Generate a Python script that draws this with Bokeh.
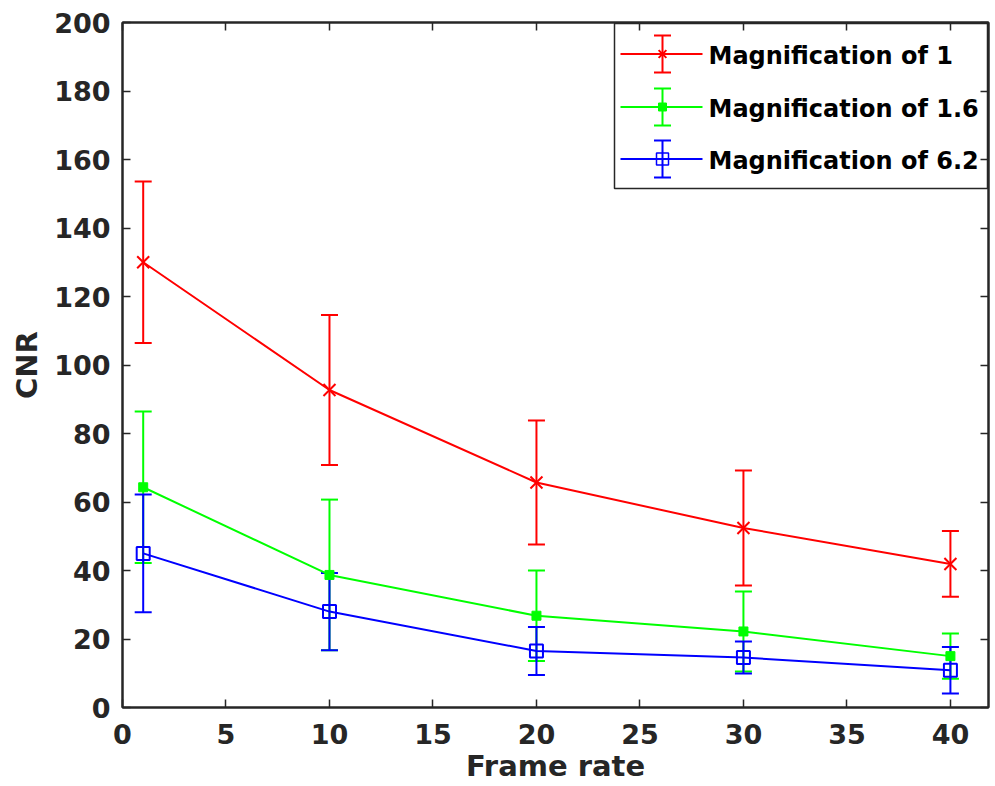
from bokeh.plotting import figure
from bokeh.models import (ColumnDataSource, Whisker, TeeHead, LinearAxis, Range1d,
                          FixedTicker, CustomJSTickFormatter)
from bokeh.core.properties import value
from bokeh.embed import file_html
from bokeh.resources import INLINE

# ---------------- data ----------------
frame_rate = [1, 10, 20, 30, 40]
cnr_mag1 = [130.0, 92.7, 65.7, 52.4, 41.9]
err_mag1 = [23.6, 21.9, 18.1, 16.8, 9.6]
cnr_mag16 = [64.3, 38.7, 26.8, 22.2, 15.0]
err_mag16 = [22.1, 22.0, 13.2, 11.7, 6.6]
cnr_mag62 = [45.0, 28.0, 16.5, 14.6, 10.9]
err_mag62 = [17.2, 11.3, 7.0, 4.7, 6.8]

series_labels = ["Magnification of 1", "Magnification of 1.6", "Magnification of 6.2"]
series_colors = ["#ff0000", "#00ff00", "#0000ff"]
x_ticks = [0, 5, 10, 15, 20, 25, 30, 35, 40]
y_ticks = [0, 20, 40, 60, 80, 100, 120, 140, 160, 180, 200]
x_label = "Frame rate"
y_label = "CNR"

# ---------------- layout ----------------
W, H = 995, 786
BL, BR, BT, BB = 122, 7, 22, 79
FW, FH = W - BL - BR, H - BT - BB
FONT = "DejaVu Sans"
INK = "#262626"

p = figure(width=W, height=H, x_range=Range1d(0, 41.84), y_range=Range1d(0, 200),
           output_backend="svg", toolbar_location=None,
           min_border_left=BL, min_border_right=BR, min_border_top=BT, min_border_bottom=BB)
p.xgrid.visible = False
p.ygrid.visible = False
p.outline_line_color = INK
p.outline_line_width = 2
p.background_fill_color = "white"
p.border_fill_color = "white"

# pixel coordinate system for the legend (frame-relative, y from top)
p.extra_x_ranges = {"px": Range1d(0, FW)}
p.extra_y_ranges = {"px": Range1d(FH, 0)}


def style_axis(ax, show_labels=True):
    ax.axis_line_color = INK
    ax.axis_line_width = 2
    ax.major_tick_line_color = INK
    ax.major_tick_line_width = 1.5
    ax.major_tick_in = 8
    ax.major_tick_out = 0
    ax.minor_tick_line_color = None
    ax.major_label_text_color = INK
    ax.major_label_text_font = FONT
    ax.major_label_text_font_style = "bold"
    ax.major_label_text_font_size = "27px"
    ax.axis_label_text_color = INK
    ax.axis_label_text_font = FONT
    ax.axis_label_text_font_style = "bold"
    ax.axis_label_text_font_size = "29px"
    if not show_labels:
        ax.formatter = CustomJSTickFormatter(code="return ''")
        ax.major_label_standoff = 0
        ax.major_label_text_font_size = "1px"


p.xaxis.ticker = FixedTicker(ticks=x_ticks)
p.yaxis.ticker = FixedTicker(ticks=y_ticks)
style_axis(p.xaxis[0])
style_axis(p.yaxis[0])
p.xaxis.axis_label = x_label
p.yaxis.axis_label = y_label
p.xaxis.major_label_standoff = 16
p.xaxis.axis_label_standoff = 2
p.yaxis.major_label_standoff = 12
p.yaxis.axis_label_standoff = 7

top_ax = LinearAxis(ticker=FixedTicker(ticks=x_ticks))
right_ax = LinearAxis(ticker=FixedTicker(ticks=y_ticks))
style_axis(top_ax, False)
style_axis(right_ax, False)
p.add_layout(top_ax, "above")
p.add_layout(right_ax, "right")

# ---------------- series ----------------
series = [
    (cnr_mag1, err_mag1, dict(marker="x", size=17, line_width=2, fill_color=None)),
    (cnr_mag16, err_mag16, dict(marker="square", size=9, line_width=1)),
    (cnr_mag62, err_mag62, dict(marker="square", size=13, line_width=2, fill_color=None)),
]

for (vals, errs, mk), color, label in zip(series, series_colors, series_labels):
    src = ColumnDataSource(dict(
        x=frame_rate, y=vals,
        upper=[v + e for v, e in zip(vals, errs)],
        lower=[v - e for v, e in zip(vals, errs)],
    ))
    wh = Whisker(source=src, base="x", upper="upper", lower="lower", dimension="height",
                 line_color=color, line_width=2,
                 upper_head=TeeHead(size=17, line_color=color, line_width=2),
                 lower_head=TeeHead(size=17, line_color=color, line_width=2))
    p.add_layout(wh)
    p.line("x", "y", source=src, line_color=color, line_width=2)
    kw = dict(mk)
    fc = kw.pop("fill_color", color)
    p.scatter("x", "y", source=src, line_color=color, fill_color=fc, **kw)

# ---------------- legend (drawn in frame pixel space) ----------------
LEG_L, LEG_R, LEG_T, LEG_B = 492, 865, 1, 166
ROW_Y = [31.5, 84.5, 136.5]
LINE_X0, LINE_X1, BAR_X, TEXT_X = 498, 580, 540, 586
BAR_HALF = 18.5
leg_marker = [dict(marker="x", size=11, line_width=2, fill_color=None),
              dict(marker="square", size=8, line_width=1),
              dict(marker="square", size=12, line_width=1.5, fill_color=None)]

p.quad(left=[LEG_L], right=[LEG_R], top=[LEG_T], bottom=[LEG_B],
       fill_color="white", line_color=INK, line_width=1.5,
       x_range_name="px", y_range_name="px")

for yy, color, label, mk in zip(ROW_Y, series_colors, series_labels, leg_marker):
    p.segment(x0=[LINE_X0], x1=[LINE_X1], y0=[yy], y1=[yy], line_color=color, line_width=2,
              x_range_name="px", y_range_name="px")
    lsrc = ColumnDataSource(dict(x=[BAR_X], u=[yy - BAR_HALF], l=[yy + BAR_HALF]))
    p.add_layout(Whisker(source=lsrc, base="x", upper="u", lower="l", dimension="height",
                         line_color=color, line_width=2, level="overlay",
                         upper_head=TeeHead(size=17, line_color=color, line_width=2),
                         lower_head=TeeHead(size=17, line_color=color, line_width=2),
                         x_range_name="px", y_range_name="px"))
    kw = dict(mk)
    fc = kw.pop("fill_color", color)
    p.scatter(x=[BAR_X], y=[yy], line_color=color, fill_color=fc,
              x_range_name="px", y_range_name="px", **kw)
    p.text(x=[TEXT_X], y=[yy + 1.5], text=[label], text_color="black",
           text_font=value(FONT), text_font_style="bold", text_font_size="24px",
           text_baseline="middle", text_align="left",
           x_range_name="px", y_range_name="px")

open("out.html", "w").write(file_html(p, INLINE))
